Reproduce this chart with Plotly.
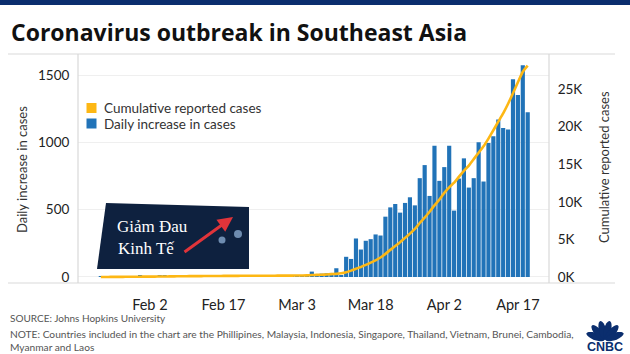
import numpy as np
import pandas as pd
import plotly.graph_objects as go

# ---------------- data ----------------
start_date = "2020-01-23"
daily_cases = [
    4, 3, 4, 6, 3, 4, 6, 5, 8,                       # Jan 23 - Jan 31
    3, 4, 6, 8, 9, 7, 8, 10, 7, 6,                   # Feb 1 - Feb 10
    3, 5, 5, 10, 3, 4, 3, 4, 4, 3,                   # Feb 11 - Feb 20
    3, 2, 2, 1, 2, 3, 4, 6, 4,                       # Feb 21 - Feb 29
    4, 3, 2, 15, 10,                                 # Mar 1 - Mar 5
    40, 8, 25, 28, 30, 65, 10, 150, 134, 286,        # Mar 6 - Mar 15
    204, 269, 281, 316, 308, 448, 517, 542, 478, 550,  # Mar 16 - Mar 25
    592, 532, 734, 831, 602, 975,                    # Mar 26 - Mar 31
    714, 816, 975, 493, 731, 881, 664, 734, 1000, 709,  # Apr 1 - Apr 10
    995, 1045, 1169, 1107, 1095, 1468, 1351, 1572, 1224,  # Apr 11 - Apr 19
]
cumulative_cases = [
    4, 7, 11, 17, 20, 24, 30, 35, 43,
    46, 50, 56, 64, 73, 80, 88, 98, 105, 111,
    114, 119, 124, 134, 137, 141, 144, 148, 152, 155,
    158, 160, 162, 163, 165, 168, 172, 178, 182,
    186, 189, 191, 206, 216,
    260, 276, 303, 332, 380, 417, 497, 639, 849, 1094,
    1330, 1605, 1904, 2216, 2594, 3076, 3606, 4116, 4630, 5201,
    5763, 6396, 7178, 7895, 8683, 9528,
    10293, 11188, 11922, 12534, 13340, 14113, 14812, 15679, 16533, 17385,
    18405, 19512, 20650, 21751, 23033, 24442, 25904, 27302, 28100,
]
dates = pd.date_range(start_date, periods=len(daily_cases), freq="D")

x_tick_vals = ["2020-02-02", "2020-02-17", "2020-03-03", "2020-03-18", "2020-04-02", "2020-04-17"]
x_tick_text = ["Feb 2", "Feb 17", "Mar 3", "Mar 18", "Apr 2", "Apr 17"]
left_tick_vals = [0, 500, 1000, 1500]
right_tick_vals = [0, 5000, 10000, 15000, 20000, 25000]
right_tick_text = ["0K", "5K", "10K", "15K", "20K", "25K"]

title_text = "Coronavirus outbreak in Southeast Asia"
left_title = "Daily increase in cases"
right_title = "Cumulative reported cases"
legend_labels = ["Cumulative reported cases", "Daily increase in cases"]
source_text = "SOURCE: Johns Hopkins University"
note_lines = ["NOTE: Countries included in the chart are the Phillipines, Malaysia, Indonesia, "
              "Singapore, Thailand, Vietnam, Brunei, Cambodia,",
              "Myanmar and Laos"]

# ---------------- styling ----------------
W, H = 630, 354
L, R, T, B = 78, 81, 54, 71
PW, PH = W - L - R, H - T - B
BLUE = "#2173B8"
YELLOW = "#FDB714"
NAVY = "#0B2E6E"
FONT = "Lato"


def px(x):
    return (x - L) / PW


def py(y):
    return (H - B - y) / PH


fig = go.Figure()
fig.add_trace(go.Bar(x=dates, y=daily_cases, marker=dict(color=BLUE, line_width=0),
                     showlegend=False, yaxis="y"))
fig.add_trace(go.Scatter(x=dates, y=cumulative_cases, mode="lines",
                         line=dict(color=YELLOW, width=2.6, shape="spline", smoothing=0.4),
                         showlegend=False, yaxis="y2"))

shapes = []
annotations = []

# top navy band
shapes.append(dict(type="rect", xref="paper", yref="paper", x0=px(0), x1=px(W),
                   y0=py(5), y1=py(-2), fillcolor=NAVY, line_width=0, layer="above"))
# frame lines
line_col = "#D9D9D9"
shapes.append(dict(type="line", xref="paper", yref="paper", x0=px(8), x1=px(615),
                   y0=1, y1=1, line=dict(color=line_col, width=1.2)))
shapes.append(dict(type="line", xref="paper", yref="paper", x0=px(8), x1=px(615),
                   y0=0, y1=0, line=dict(color=line_col, width=1.2)))
shapes.append(dict(type="line", xref="paper", yref="paper", x0=0, x1=0,
                   y0=0, y1=1, line=dict(color=line_col, width=1.2)))
shapes.append(dict(type="line", xref="paper", yref="paper", x0=1, x1=1,
                   y0=0, y1=1, line=dict(color=line_col, width=1.2)))

# title
annotations.append(dict(text=f"<b>{title_text}</b>", xref="paper", yref="paper",
                        x=px(9), y=py(32), xanchor="left", yanchor="middle", showarrow=False,
                        font=dict(family="Open Sans", size=23, color="#111111")))
# axis titles
annotations.append(dict(text=left_title, xref="paper", yref="paper", x=px(22), y=py(170),
                        textangle=-90, showarrow=False, xanchor="center", yanchor="middle",
                        font=dict(family=FONT, size=13, color="#333333")))
annotations.append(dict(text=right_title, xref="paper", yref="paper", x=px(604), y=py(167),
                        textangle=-90, showarrow=False, xanchor="center", yanchor="middle",
                        font=dict(family=FONT, size=13, color="#333333")))

# legend
for i, (lab, col) in enumerate(zip(legend_labels, [YELLOW, BLUE])):
    yc = 108 + i * 15.5
    shapes.append(dict(type="rect", xref="paper", yref="paper", x0=px(86.5), x1=px(96.5),
                       y0=py(yc + 5), y1=py(yc - 5), fillcolor=col, line_width=0))
    annotations.append(dict(text=lab, xref="paper", yref="paper", x=px(101.5), y=py(yc),
                            xanchor="left", yanchor="middle", showarrow=False,
                            font=dict(family=FONT, size=13.5, color="#333333")))

# footer
annotations.append(dict(text=source_text, xref="paper", yref="paper", x=px(8), y=py(318),
                        xanchor="left", yanchor="middle", showarrow=False,
                        font=dict(family=FONT, size=10, color="#555555")))
for j, ln in enumerate(note_lines):
    annotations.append(dict(text=ln, xref="paper", yref="paper", x=px(8), y=py(334 + 13 * j),
                            xanchor="left", yanchor="middle", showarrow=False,
                            font=dict(family=FONT, size=10.2, color="#555555")))

# watermark logo
shapes.append(dict(type="path", xref="paper", yref="paper",
                   path=f"M {px(106)},{py(203)} L {px(249)},{py(207)} L {px(249)},{py(269)} L {px(97)},{py(269)} Z",
                   fillcolor="#0E213F", line_width=0, layer="above"))
annotations.append(dict(text="Giảm Đau", xref="paper", yref="paper", x=px(115), y=py(226),
                        xanchor="left", yanchor="middle", showarrow=False,
                        font=dict(family="Liberation Serif", size=17, color="white")))
annotations.append(dict(text="Kinh Tế", xref="paper", yref="paper", x=px(116), y=py(248),
                        xanchor="left", yanchor="middle", showarrow=False,
                        font=dict(family="Liberation Serif", size=17, color="white")))
annotations.append(dict(text="", xref="paper", yref="paper", x=px(233), y=py(217),
                        ax=-50, ay=36, showarrow=True, arrowhead=2, arrowsize=1,
                        arrowwidth=3, arrowcolor="#E0343A"))
for cx, cy, r in [(222, 240, 3.5), (238, 234, 4)]:
    shapes.append(dict(type="circle", xref="paper", yref="paper", x0=px(cx - r), x1=px(cx + r),
                       y0=py(cy + r), y1=py(cy - r), fillcolor="#6E8CB0", line_width=0, layer="above"))

# CNBC logo (peacock + wordmark)
cx0, cy0 = 605, 340
for ang in np.linspace(160, 20, 6):
    a = np.deg2rad(ang)
    ux, uy = np.cos(a), -np.sin(a)
    vx, vy = -uy, ux
    pts = []
    for t in np.linspace(0, 2 * np.pi, 24):
        along = 10 + 9.5 * np.cos(t)
        across = 3.6 * np.sin(t)
        pts.append((cx0 + ux * along + vx * across, cy0 + uy * along + vy * across))
    path = "M " + " L ".join(f"{px(xx)},{py(yy)}" for xx, yy in pts) + " Z"
    shapes.append(dict(type="path", xref="paper", yref="paper", path=path,
                       fillcolor=NAVY, line_width=0))
annotations.append(dict(text="<b>CNBC</b>", xref="paper", yref="paper", x=px(605), y=py(346.5),
                        xanchor="center", yanchor="middle", showarrow=False,
                        font=dict(family="Liberation Sans", size=12.5, color=NAVY)))

fig.update_layout(
    width=W, height=H,
    margin=dict(l=L, r=R, t=T, b=B),
    paper_bgcolor="white", plot_bgcolor="white",
    bargap=0.15,
    showlegend=False,
    font=dict(family=FONT, size=13, color="#222222"),
    xaxis=dict(type="date", range=["2020-01-18 08:24", "2020-04-23 08:10"],
               tickvals=x_tick_vals, ticktext=x_tick_text, ticks="outside", ticklen=9,
               tickcolor="rgba(0,0,0,0)", showgrid=False, showline=False, zeroline=False,
               tickfont=dict(family=FONT, size=14.5, color="#222222")),
    yaxis=dict(range=[-44.6, 1656], tickvals=left_tick_vals, ticks="outside", ticklen=5,
               tickcolor="rgba(0,0,0,0)", showgrid=True, gridcolor="#EFEFEF", gridwidth=1,
               zeroline=False, showline=False,
               tickfont=dict(family=FONT, size=13.5, color="#222222")),
    yaxis2=dict(range=[-798, 29654], tickvals=right_tick_vals, ticktext=right_tick_text,
                overlaying="y", side="right", ticks="outside", ticklen=5,
                tickcolor="rgba(0,0,0,0)", showgrid=False, zeroline=False, showline=False,
                tickfont=dict(family=FONT, size=13.5, color="#222222")),
    shapes=shapes,
    annotations=annotations,
)

fig.write_html("out.html")
